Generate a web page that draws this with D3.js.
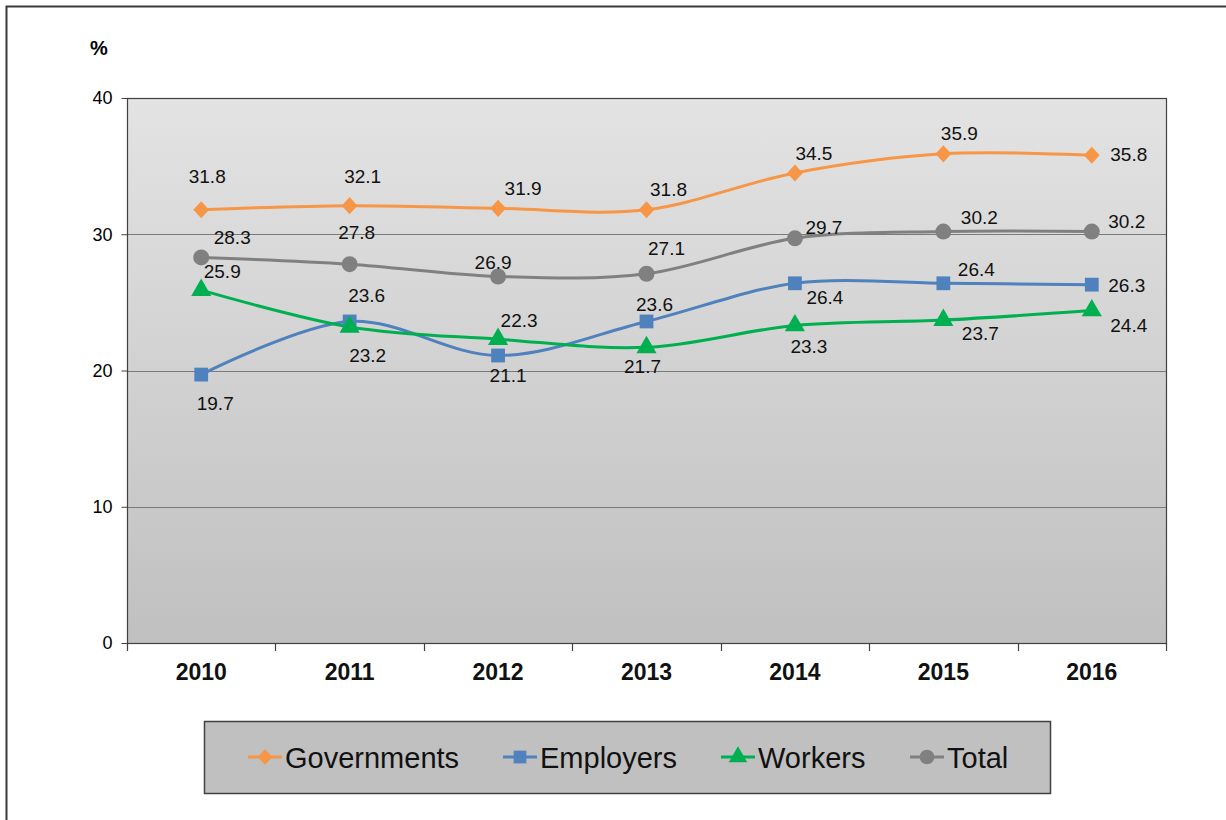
<!DOCTYPE html>
<html>
<head>
<meta charset="utf-8">
<script src="https://cdn.jsdelivr.net/npm/d3@7/dist/d3.min.js"></script>
<style>
  html, body { margin: 0; padding: 0; background: #ffffff; }
  svg { display: block; font-family: "Liberation Sans", Arial, sans-serif; }
</style>
</head>
<body>
<script>
// Share of women (%) by group, 2010-2016
const years = ["2010", "2011", "2012", "2013", "2014", "2015", "2016"];
const governments = [31.8, 32.1, 31.9, 31.8, 34.5, 35.9, 35.8];
const employers   = [19.7, 23.6, 21.1, 23.6, 26.4, 26.4, 26.3];
const workers     = [25.9, 23.2, 22.3, 21.7, 23.3, 23.7, 24.4];
const total       = [28.3, 27.8, 26.9, 27.1, 29.7, 30.2, 30.2];
const yTicks = [0, 10, 20, 30, 40];

// Label offsets (dx, dy) relative to each point, so labels sit clear of the lines
const labelOffsets = {
  Governments: [[6,-33],[13,-29],[25,-20],[22,-20],[19,-19],[16,-20],[37,-1]],
  Employers:   [[14,29],[17,-26],[10,20],[8,-17],[30,14],[33,-14],[35,1]],
  Workers:     [[21,-19],[18,29],[21,-19],[-4,19],[14,21],[37,13],[37,15]],
  Total:       [[31,-20],[7,-32],[-5,-14],[20,-25],[29,-11],[36,-14],[35,-10]]
};

// Wide diamond marker (a little wider than d3's built-in one)
const wideDiamond = {
  draw(ctx, size) {
    const h = Math.sqrt(size) * 0.62, w = h * 0.92;
    ctx.moveTo(0, -h); ctx.lineTo(w, 0); ctx.lineTo(0, h); ctx.lineTo(-w, 0); ctx.closePath();
  }
};

const series = [
  { name: "Governments", values: governments, color: "#F79646", symbol: wideDiamond,        size: 190 },
  { name: "Employers",   values: employers,   color: "#4F81BD", symbol: d3.symbolSquare,   size: 190 },
  { name: "Workers",     values: workers,     color: "#00B050", symbol: d3.symbolTriangle, size: 175 },
  { name: "Total",       values: total,       color: "#808080", symbol: d3.symbolCircle,   size: 200 }
];

const W = 1226, H = 820;
const plot = { left: 127, right: 1166, top: 98, bottom: 643 };

const svg = d3.select("body").append("svg").attr("width", W).attr("height", H);

// Outer frame (top and left edges visible)
svg.append("path")
  .attr("d", `M6.5,${H} L6.5,6.5 L${W},6.5`)
  .attr("fill", "none").attr("stroke", "#3a3a3a").attr("stroke-width", 2);

const defs = svg.append("defs");
const grad = defs.append("linearGradient").attr("id", "plotBg")
  .attr("x1", 0).attr("y1", 0).attr("x2", 0).attr("y2", 1);
grad.append("stop").attr("offset", "0%").attr("stop-color", "#e3e3e3");
grad.append("stop").attr("offset", "100%").attr("stop-color", "#c0c0c0");

const x = d3.scaleBand().domain(years).range([plot.left, plot.right]).padding(0);
const y = d3.scaleLinear().domain([0, 40]).range([plot.bottom, plot.top]);
const cx = d => x(d) + x.bandwidth() / 2;

// Plot background
svg.append("rect")
  .attr("x", plot.left).attr("y", plot.top)
  .attr("width", plot.right - plot.left).attr("height", plot.bottom - plot.top)
  .attr("fill", "url(#plotBg)");

// Horizontal gridlines
svg.append("g").selectAll("line").data(yTicks.filter(t => t > 0 && t < 40)).join("line")
  .attr("x1", plot.left).attr("x2", plot.right)
  .attr("y1", d => Math.round(y(d)) + 0.5).attr("y2", d => Math.round(y(d)) + 0.5)
  .attr("stroke", "#7a7a7a").attr("stroke-width", 1.2);

// Plot border
svg.append("rect")
  .attr("x", plot.left + 0.5).attr("y", plot.top + 0.5)
  .attr("width", plot.right - plot.left).attr("height", plot.bottom - plot.top)
  .attr("fill", "none").attr("stroke", "#404040").attr("stroke-width", 1.2);

// Y axis
const yAxis = svg.append("g").attr("transform", `translate(${plot.left + 0.5},0)`)
  .call(d3.axisLeft(y).tickValues(yTicks).tickSize(6).tickPadding(9).tickFormat(d3.format("d")));
yAxis.select(".domain").remove();
yAxis.selectAll(".tick line").attr("stroke", "#404040");
yAxis.selectAll("text").attr("font-size", 18).attr("fill", "#000")
  .style("font-family", "'Liberation Sans', Arial, sans-serif");

// X axis: ticks on category boundaries, bold year labels
const boundaries = years.map(d => x(d)).concat([plot.right]);
svg.append("g").selectAll("line").data(boundaries).join("line")
  .attr("x1", d => Math.round(d) + 0.5).attr("x2", d => Math.round(d) + 0.5)
  .attr("y1", plot.bottom).attr("y2", plot.bottom + 8)
  .attr("stroke", "#404040").attr("stroke-width", 1.2);
svg.append("g").selectAll("text").data(years).join("text")
  .attr("x", d => cx(d)).attr("y", 672)
  .attr("text-anchor", "middle").attr("dominant-baseline", "central")
  .attr("font-size", 23).attr("font-weight", "bold").attr("fill", "#111")
  .text(d => d);

// Unit label
svg.append("text").attr("x", 99).attr("y", 48)
  .attr("text-anchor", "middle").attr("dominant-baseline", "central")
  .attr("font-size", 20).attr("font-weight", "bold").text("%");

// Smoothed lines
const line = d3.line().x((d, i) => cx(years[i])).y(d => y(d)).curve(d3.curveCardinal.tension(0));
const gLines = svg.append("g");
series.forEach(s => {
  gLines.append("path").datum(s.values)
    .attr("d", line).attr("fill", "none")
    .attr("stroke", s.color).attr("stroke-width", 3).attr("stroke-linejoin", "round");
});

// Markers
const gMarks = svg.append("g");
series.forEach(s => {
  gMarks.selectAll(null).data(s.values).join("path")
    .attr("transform", (d, i) => `translate(${cx(years[i])},${y(d)})`)
    .attr("d", d3.symbol().type(s.symbol).size(s.size))
    .attr("fill", s.color);
});

// Data labels
const gLabels = svg.append("g");
series.forEach(s => {
  gLabels.selectAll(null).data(s.values).join("text")
    .attr("x", (d, i) => cx(years[i]) + labelOffsets[s.name][i][0])
    .attr("y", (d, i) => y(d) + labelOffsets[s.name][i][1])
    .attr("text-anchor", "middle").attr("dominant-baseline", "central")
    .attr("font-size", 19).attr("fill", "#111")
    .text(d => d3.format(".1f")(d));
});

// Legend
const legend = svg.append("g");
legend.append("rect")
  .attr("x", 204.5).attr("y", 721.5).attr("width", 846).attr("height", 72)
  .attr("fill", "#c0c0c0").attr("stroke", "#404040").attr("stroke-width", 1.5);
const legendX = [248, 503, 721, 910];
series.forEach((s, i) => {
  const g = legend.append("g").attr("transform", `translate(${legendX[i]},757)`);
  g.append("line").attr("x1", 0).attr("x2", 34).attr("y1", 0).attr("y2", 0)
    .attr("stroke", s.color).attr("stroke-width", 3);
  g.append("path").attr("transform", "translate(17,0)")
    .attr("d", d3.symbol().type(s.symbol).size(s.size * 0.85)).attr("fill", s.color);
  g.append("text").attr("x", 37).attr("y", 1)
    .attr("dominant-baseline", "central").attr("font-size", 29).attr("fill", "#111")
    .text(s.name);
});
</script>
</body>
</html>
